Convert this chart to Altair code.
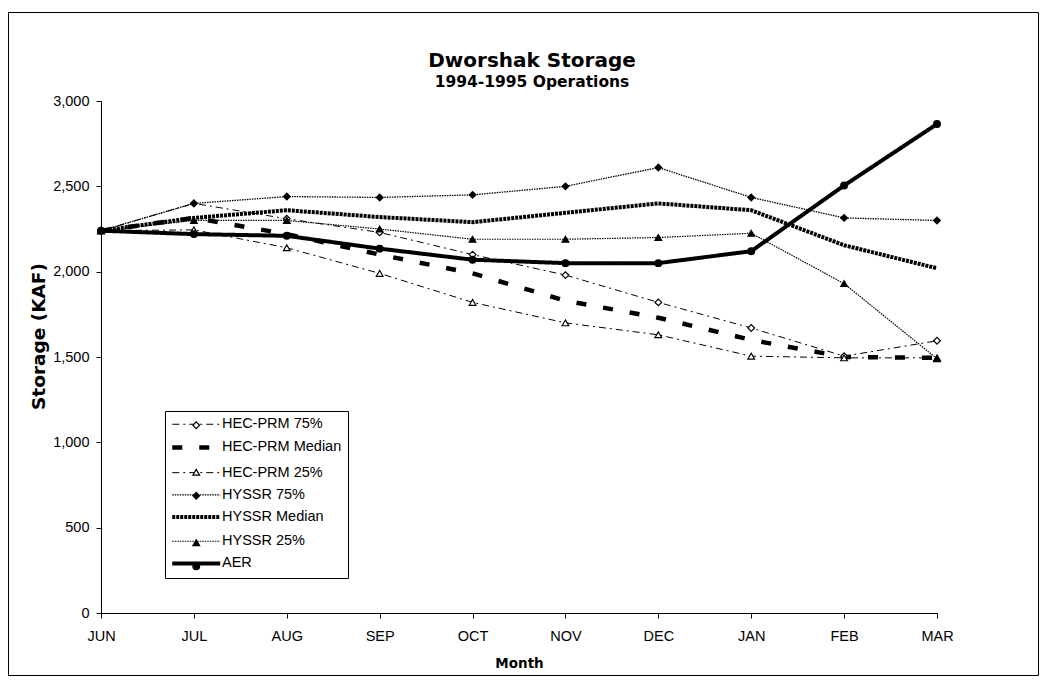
import altair as alt
import pandas as pd

months = ["JUN", "JUL", "AUG", "SEP", "OCT", "NOV", "DEC", "JAN", "FEB", "MAR"]
series_names = ["HEC-PRM 75%", "HEC-PRM Median", "HEC-PRM 25%",
                "HYSSR 75%", "HYSSR Median", "HYSSR 25%", "AER"]

hec75 = [2240, 2400, 2310, 2230, 2100, 1980, 1820, 1670, 1505, 1595]
hec_med = [2240, 2315, 2220, 2100, 1990, 1830, 1730, 1600, 1500, 1495]
hec25 = [2240, 2245, 2140, 1990, 1820, 1700, 1630, 1505, 1495, 1495]
hyssr75 = [2240, 2400, 2440, 2435, 2450, 2500, 2610, 2435, 2315, 2300]
hyssr_med = [2240, 2315, 2360, 2320, 2290, 2345, 2400, 2360, 2155, 2020]
hyssr25 = [2240, 2300, 2300, 2250, 2190, 2190, 2200, 2225, 1930, 1490]
aer = [2240, 2220, 2210, 2135, 2070, 2050, 2050, 2120, 2505, 2865]

values = [hec75, hec_med, hec25, hyssr75, hyssr_med, hyssr25, aer]
y_ticks = [0, 500, 1000, 1500, 2000, 2500, 3000]

rows = []
for name, vals in zip(series_names, values):
    for m, v in zip(months, vals):
        rows.append({"month": m, "storage": v, "series": name, "series_m": name})
df = pd.DataFrame(rows)
pts = df[~df["series"].str.contains("Median")]

# styles
dash_range = [[7, 4, 2, 4], [10, 17], [7, 4, 2, 4], [1.5, 1], [3, 1], [1.5, 1], [1, 0]]
width_range = [1, 4.5, 1, 1.3, 4, 1.2, 4]
shape_range = ["diamond", "circle", "triangle-up", "diamond", "circle", "triangle-up", "circle"]
fill_range = ["white", "transparent", "white", "black", "transparent", "black", "black"]
stroke_range = ["black", "transparent", "black", "black", "transparent", "black", "black"]

REG = "Liberation Sans"
BOLD = "DejaVu Sans"

x_enc = alt.X("month:N", sort=months, scale=alt.Scale(type="point", padding=0),
              axis=alt.Axis(title="Month", labelAngle=0, labelFont=REG, labelFontSize=14.5,
                            labelColor="black", tickSize=5, labelPadding=11,
                            titleFont=BOLD, titleFontSize=13.5, titleFontWeight="bold",
                            titlePadding=14, domainColor="black", tickColor="black"))
y_enc = alt.Y("storage:Q", scale=alt.Scale(domain=[0, 3000], nice=False),
              axis=alt.Axis(title="Storage (KAF)", values=y_ticks, format=",.0f", grid=False,
                            labelFont=REG, labelFontSize=14.5, labelColor="black",
                            tickSize=5, labelPadding=7, titleFont=BOLD, titleFontSize=18.5,
                            titleFontWeight="bold", titleX=-53, titleY=235,
                            domainColor="black", tickColor="black"))

lines = alt.Chart(df).mark_line(color="black").encode(
    x=x_enc,
    y=y_enc,
    strokeDash=alt.StrokeDash("series:N",
                              scale=alt.Scale(type="ordinal", domain=series_names, range=dash_range),
                              legend=alt.Legend(orient="none", legendX=64, legendY=310, title=None,
                                                symbolType="M-1.5,0L10.5,0", symbolSize=64,
                                                symbolStrokeColor="black", symbolFillColor="transparent",
                                                labelFont=REG, labelFontSize=14.5, labelColor="black",
                                                labelOffset=36.5, padding=6, rowPadding=7.2,
                                                strokeColor="black", labelLimit=300)),
    strokeWidth=alt.StrokeWidth("series:N",
                                scale=alt.Scale(type="ordinal", domain=series_names, range=width_range)),
    detail="series:N",
)

point_legend = alt.Legend(orient="none", legendX=82, legendY=311, title=None,
                          symbolSize=45, symbolStrokeWidth=1.2,
                          labelFont=REG, labelFontSize=14.5, labelColor="transparent",
                          labelExpr="''", labelOffset=36.5, padding=6, rowPadding=8.5)

points = alt.Chart(pts).mark_point(size=45, strokeWidth=1.2, opacity=1).encode(
    x=alt.X("month:N", sort=months),
    y="storage:Q",
    shape=alt.Shape("series_m:N", scale=alt.Scale(domain=series_names, range=shape_range),
                    legend=point_legend),
    fill=alt.Fill("series_m:N", scale=alt.Scale(domain=series_names, range=fill_range),
                  legend=point_legend),
    stroke=alt.Stroke("series_m:N", scale=alt.Scale(domain=series_names, range=stroke_range),
                      legend=point_legend),
)

frame = alt.Chart(pd.DataFrame({"a": [0]})).mark_rect(fill=None, stroke="black", strokeWidth=1).encode(
    x=alt.value(-92.5), x2=alt.value(937.5), y=alt.value(-88.5), y2=alt.value(574.5)
)

chart = alt.layer(frame, lines, points).properties(
    width=836, height=512,
    padding={"left": 93, "top": 93, "right": 102, "bottom": 70},
    autosize=alt.AutoSizeParams(type="none"),
    title=alt.TitleParams("Dworshak Storage", subtitle="1994-1995 Operations",
                          font=BOLD, fontSize=20, fontWeight="bold", color="black",
                          subtitleFont=BOLD, subtitleFontSize=15.5, subtitleFontWeight="bold",
                          subtitleColor="black", subtitlePadding=4, anchor="middle",
                          frame="group", offset=-78, dx=13),
).resolve_scale(
    shape="independent", fill="independent", stroke="independent"
).configure(background="white").configure_view(stroke=None)

chart.save("out.html", embed_options={"renderer": "svg", "actions": False})
